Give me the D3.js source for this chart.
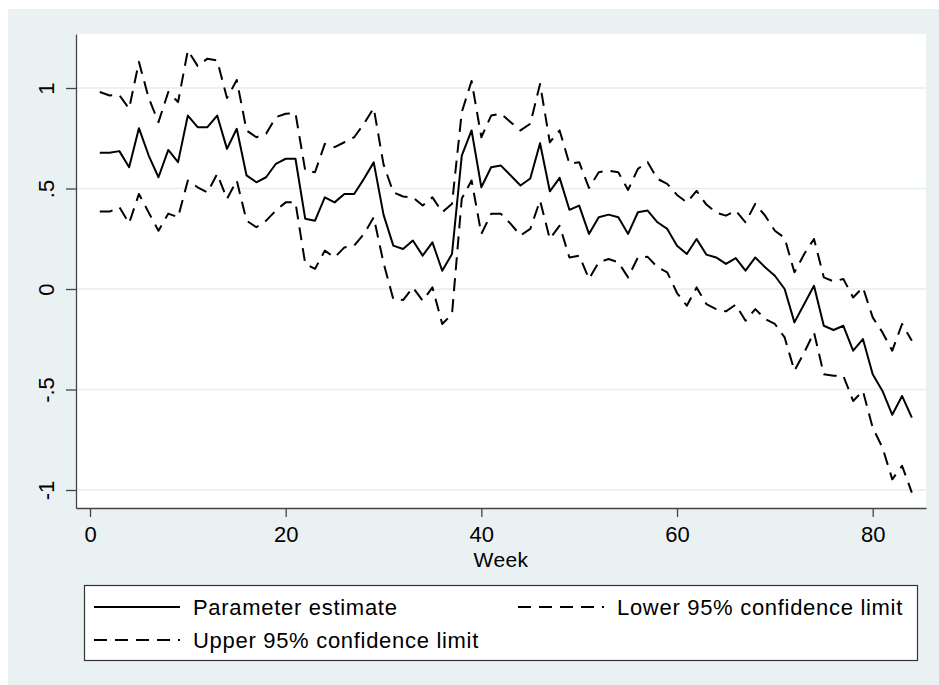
<!DOCTYPE html>
<html>
<head>
<meta charset="utf-8">
<script src="https://cdn.jsdelivr.net/npm/d3@7"></script>
<style>
  html, body { margin: 0; padding: 0; background: #ffffff; }
  svg { display: block; }
  text { font-family: "Liberation Sans", Arial, sans-serif; fill: #000; }
</style>
</head>
<body>
<svg id="chart" width="939" height="685"></svg>
<script>
// ---- data ----
const weeks = d3.range(1, 85);
const estimate = [
  0.678, 0.678, 0.686, 0.606, 0.800, 0.664, 0.556, 0.692, 0.631, 0.863,
  0.805, 0.805, 0.863, 0.697, 0.797, 0.565, 0.531, 0.556, 0.623, 0.648,
  0.648, 0.349, 0.340, 0.456, 0.431, 0.473, 0.473, 0.548, 0.630, 0.370,
  0.216, 0.199, 0.241, 0.166, 0.232, 0.091, 0.174, 0.664, 0.789, 0.506,
  0.606, 0.614, 0.565, 0.515, 0.550, 0.725, 0.486, 0.553, 0.394, 0.415,
  0.274, 0.357, 0.370, 0.357, 0.274, 0.382, 0.390, 0.332, 0.299, 0.215,
  0.174, 0.249, 0.171, 0.157, 0.125, 0.154, 0.091, 0.157, 0.108, 0.066,
  0.000, -0.166, -0.075, 0.016, -0.183, -0.204, -0.183, -0.307, -0.249, -0.424,
  -0.507, -0.626, -0.532, -0.640
];
const upper = [
  0.980, 0.963, 0.965, 0.897, 1.130, 0.950, 0.830, 0.980, 0.930, 1.187,
  1.110, 1.146, 1.137, 0.950, 1.040, 0.789, 0.755, 0.772, 0.855, 0.872,
  0.875, 0.589, 0.581, 0.722, 0.706, 0.730, 0.755, 0.822, 0.900, 0.620,
  0.481, 0.460, 0.456, 0.415, 0.456, 0.382, 0.424, 0.880, 1.035, 0.755,
  0.863, 0.872, 0.830, 0.789, 0.822, 1.020, 0.730, 0.789, 0.623, 0.631,
  0.503, 0.581, 0.589, 0.581, 0.493, 0.598, 0.631, 0.548, 0.523, 0.468,
  0.431, 0.488, 0.420, 0.380, 0.365, 0.390, 0.332, 0.424, 0.365, 0.290,
  0.254, 0.083, 0.174, 0.249, 0.058, 0.038, 0.050, -0.042, 0.008, -0.141,
  -0.216, -0.307, -0.174, -0.258
];
const lower = [
  0.385, 0.385, 0.407, 0.327, 0.473, 0.380, 0.290, 0.375, 0.357, 0.540,
  0.506, 0.480, 0.573, 0.448, 0.540, 0.340, 0.307, 0.340, 0.390, 0.431,
  0.431, 0.125, 0.100, 0.191, 0.157, 0.207, 0.216, 0.274, 0.357, 0.130,
  -0.050, -0.055, 0.008, -0.058, 0.008, -0.174, -0.125, 0.450, 0.540, 0.274,
  0.374, 0.374, 0.324, 0.266, 0.299, 0.440, 0.249, 0.315, 0.157, 0.166,
  0.050, 0.133, 0.149, 0.133, 0.058, 0.157, 0.160, 0.108, 0.083, -0.020,
  -0.083, 0.008, -0.075, -0.100, -0.111, -0.078, -0.158, -0.100, -0.149, -0.174,
  -0.241, -0.407, -0.316, -0.216, -0.424, -0.432, -0.432, -0.557, -0.507, -0.690,
  -0.789, -0.947, -0.880, -1.013
];
const xTicks = [0, 20, 40, 60, 80];
const yTicks = [-1, -0.5, 0, 0.5, 1];
const yTickLabels = ["-1", "-.5", "0", ".5", "1"];
const xTitle = "Week";
const seriesNames = ["Parameter estimate", "Lower 95% confidence limit", "Upper 95% confidence limit"];

// ---- layout ----
const W = 939, H = 685;
const plot = { left: 76, right: 926, top: 34, bottom: 508 };
const bgColor = "#e9f1f3";
const gridColor = "#e6eef1";
const axisColor = "#444";
const dash = "13,8";
const fontSize = 22;

const svg = d3.select("#chart");

// outer background
svg.append("rect").attr("x", 8).attr("y", 9).attr("width", W - 8).attr("height", H - 9).attr("fill", bgColor);
// plot region
svg.append("rect").attr("x", plot.left).attr("y", plot.top)
  .attr("width", plot.right - plot.left).attr("height", plot.bottom - plot.top).attr("fill", "#fff");

// scales: value -1 at y=490, 1 at y=88 ; week 0 at x=90, 80 at x=872.7
const yPerUnit = (490 - 88) / 2;
const y = d3.scaleLinear()
  .domain([-1 - (plot.bottom - 490) / yPerUnit, 1 + (88 - plot.top) / yPerUnit])
  .range([plot.bottom, plot.top]);
const xPerUnit = (872.7 - 90) / 80;
const x = d3.scaleLinear()
  .domain([0 - (90 - plot.left) / xPerUnit, 80 + (plot.right - 872.7) / xPerUnit])
  .range([plot.left, plot.right]);

// gridlines
svg.append("g").selectAll("line").data(yTicks).join("line")
  .attr("x1", plot.left).attr("x2", plot.right)
  .attr("y1", d => y(d)).attr("y2", d => y(d))
  .attr("stroke", gridColor).attr("stroke-width", 1.6);

// y axis
const yAxis = svg.append("g").attr("transform", `translate(${plot.left},0)`)
  .call(d3.axisLeft(y).tickValues(yTicks).tickSize(10).tickSizeOuter(0)
    .tickFormat((d, i) => yTickLabels[i]));
yAxis.select(".domain").attr("stroke", axisColor).attr("stroke-width", 1.3);
yAxis.selectAll(".tick line").attr("stroke", axisColor).attr("stroke-width", 1.3);
yAxis.selectAll(".tick text")
  .attr("x", null).attr("dy", null)
  .attr("transform", "translate(-22,0) rotate(-90)")
  .attr("text-anchor", "middle")
  .attr("font-size", fontSize)
  .attr("font-family", "Liberation Sans, Arial, sans-serif")
  .attr("fill", "#000");

// x axis
const xAxis = svg.append("g").attr("transform", `translate(0,${plot.bottom})`)
  .call(d3.axisBottom(x).tickValues(xTicks).tickSize(9).tickSizeOuter(0).tickFormat(d3.format("d")));
xAxis.select(".domain").attr("stroke", axisColor).attr("stroke-width", 1.3);
xAxis.selectAll(".tick text")
  .attr("y", 34).attr("dy", null)
  .attr("font-size", fontSize)
  .attr("font-family", "Liberation Sans, Arial, sans-serif")
  .attr("fill", "#000");
xAxis.selectAll(".tick line").attr("stroke", axisColor).attr("stroke-width", 1.3);

svg.append("text").attr("x", (plot.left + plot.right) / 2).attr("y", 567)
  .attr("text-anchor", "middle").attr("font-size", 21).attr("letter-spacing", 0.4).text(xTitle);

// lines
const line = d3.line().x((d, i) => x(weeks[i])).y(d => y(d));
const series = [
  { values: estimate, dash: null },
  { values: lower, dash: dash },
  { values: upper, dash: dash }
];
svg.append("g").selectAll("path").data(series).join("path")
  .attr("d", d => line(d.values))
  .attr("fill", "none").attr("stroke", "#000").attr("stroke-width", 2)
  .attr("stroke-linejoin", "round")
  .attr("stroke-dasharray", d => d.dash);

// legend
const lg = svg.append("g");
lg.append("rect").attr("x", 84.5).attr("y", 585.5).attr("width", 833).attr("height", 75)
  .attr("fill", "#fff").attr("stroke", "#333").attr("stroke-width", 1.2);
const legendItems = [
  { name: seriesNames[0], dash: null, lx: 94, ly: 607 },
  { name: seriesNames[1], dash: dash, lx: 518, ly: 607 },
  { name: seriesNames[2], dash: dash, lx: 94, ly: 640 }
];
legendItems.forEach(it => {
  lg.append("line").attr("x1", it.lx).attr("x2", it.lx + 86).attr("y1", it.ly).attr("y2", it.ly)
    .attr("stroke", "#000").attr("stroke-width", 2).attr("stroke-dasharray", it.dash);
  lg.append("text").attr("x", it.lx + 99).attr("y", it.ly + 8)
    .attr("font-size", fontSize).attr("letter-spacing", 0.7).text(it.name);
});
</script>
</body>
</html>
